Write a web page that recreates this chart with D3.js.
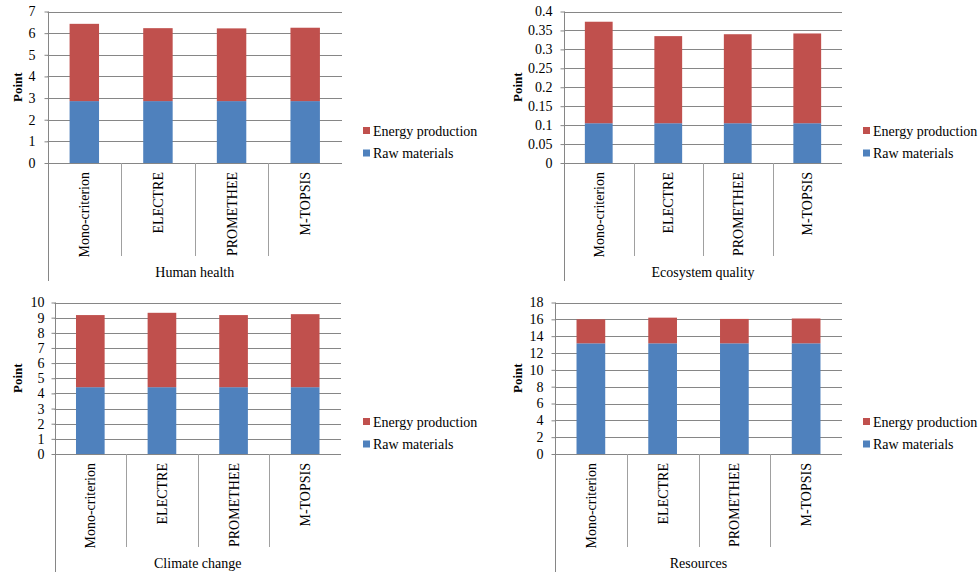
<!DOCTYPE html>
<html><head><meta charset="utf-8">
<script src="https://cdn.jsdelivr.net/npm/d3@7"></script>
<style>
html,body{margin:0;padding:0;background:#fff;}
svg text{font-family:"Liberation Serif","Times New Roman","DejaVu Serif",serif !important;}
</style></head>
<body>
<svg id="chart" width="979" height="573"></svg>
<script>
// ---- data ----
const methods = ["Mono-criterion", "ELECTRE", "PROMETHEE", "M-TOPSIS"];
const seriesNames = ["Raw materials", "Energy production"];
const legendOrder = ["Energy production", "Raw materials"];

const humanHealthRaw = [2.86, 2.86, 2.86, 2.86];
const humanHealthEnergy = [3.57, 3.37, 3.36, 3.39];
const humanHealthTicks = [0, 1, 2, 3, 4, 5, 6, 7];

const ecosystemRaw = [0.105, 0.105, 0.105, 0.105];
const ecosystemEnergy = [0.268, 0.230, 0.235, 0.237];
const ecosystemTicks = [0, 0.05, 0.1, 0.15, 0.2, 0.25, 0.3, 0.35, 0.4];

const climateRaw = [4.41, 4.41, 4.41, 4.41];
const climateEnergy = [4.76, 4.91, 4.76, 4.82];
const climateTicks = [0, 1, 2, 3, 4, 5, 6, 7, 8, 9, 10];

const resourcesRaw = [13.15, 13.15, 13.15, 13.15];
const resourcesEnergy = [2.85, 3.05, 2.90, 2.95];
const resourcesTicks = [0, 2, 4, 6, 8, 10, 12, 14, 16, 18];

const panelTitles = ["Human health", "Ecosystem quality", "Climate change", "Resources"];

// ---- styles ----
const colors = {"Raw materials": "#4F81BD", "Energy production": "#C0504D"};
const gridColor = "#868686";
const FONT = '"Liberation Serif", "Times New Roman", serif';

const panels = [
  {title: panelTitles[0], raw: humanHealthRaw, energy: humanHealthEnergy, ticks: humanHealthTicks,
   left: 47.5, right: 342, top: 11.5, bottom: 163, sepBottom: 256, axisBottom: 281, titleY: 277, pointX: 21.5, legendX: 363, legendY: 130.5, pad: 9},
  {title: panelTitles[1], raw: ecosystemRaw, energy: ecosystemEnergy, ticks: ecosystemTicks,
   left: 564, right: 842, top: 11.5, bottom: 163, sepBottom: 256, axisBottom: 281, titleY: 277, pointX: 521.5, legendX: 863, legendY: 130.5, pad: 8},
  {title: panelTitles[2], raw: climateRaw, energy: climateEnergy, ticks: climateTicks,
   left: 54.5, right: 341, top: 302.5, bottom: 454, sepBottom: 547, axisBottom: 572, titleY: 568, pointX: 21.5, legendX: 363, legendY: 421.5, pad: 7},
  {title: panelTitles[3], raw: resourcesRaw, energy: resourcesEnergy, ticks: resourcesTicks,
   left: 555, right: 842, top: 302.5, bottom: 454, sepBottom: 547, axisBottom: 572, titleY: 568, pointX: 521.5, legendX: 863, legendY: 421.5, pad: 8}
];

const svg = d3.select("#chart");

panels.forEach(p => {
  const g = svg.append("g").attr("font-family", FONT);
  const maxTick = p.ticks[p.ticks.length - 1];
  const y = d3.scaleLinear().domain([0, maxTick]).range([p.bottom, p.top]);
  const x = d3.scaleBand().domain(methods).range([p.left, p.right]).paddingInner(0.6).paddingOuter(0.3);
  const xOuter = d3.scaleBand().domain(methods).range([p.left, p.right]).padding(0);

  // gridlines
  g.selectAll(".grid").data(p.ticks.slice(1)).join("line")
    .attr("x1", p.left).attr("x2", p.right)
    .attr("y1", d => Math.round(y(d)) + 0.5).attr("y2", d => Math.round(y(d)) + 0.5)
    .attr("stroke", gridColor).attr("stroke-width", 1);

  // stacked bars
  const rows = methods.map((m, i) => ({method: m, "Raw materials": p.raw[i], "Energy production": p.energy[i]}));
  const stacked = d3.stack().keys(seriesNames)(rows);
  stacked.forEach(layer => {
    g.selectAll(null).data(layer).join("rect")
      .attr("x", d => x(d.data.method))
      .attr("width", x.bandwidth())
      .attr("y", d => y(d[1]))
      .attr("height", d => y(d[0]) - y(d[1]))
      .attr("fill", colors[layer.key]);
  });

  // y axis
  const yAxis = d3.axisLeft(y).tickValues(p.ticks).tickSize(4).tickPadding(p.pad).tickFormat(d => String(d));
  const ya = g.append("g").attr("transform", `translate(${Math.round(p.left) + 0.5},0)`).call(yAxis);
  ya.attr("font-family", FONT).attr("font-size", 14);
  ya.select(".domain").remove();
  ya.selectAll(".tick line").attr("stroke", gridColor);
  ya.selectAll(".tick text").attr("fill", "#000");
  // axis vertical line extended down
  g.append("line").attr("x1", Math.round(p.left) + 0.5).attr("x2", Math.round(p.left) + 0.5)
    .attr("y1", p.top).attr("y2", p.axisBottom).attr("stroke", gridColor);
  // baseline
  g.append("line").attr("x1", p.left).attr("x2", p.right)
    .attr("y1", Math.round(y(0)) + 0.5).attr("y2", Math.round(y(0)) + 0.5).attr("stroke", gridColor);

  // category separators
  g.selectAll(".sep").data(methods.slice(1)).join("line")
    .attr("x1", d => Math.round(xOuter(d)) + 0.5).attr("x2", d => Math.round(xOuter(d)) + 0.5)
    .attr("y1", p.bottom).attr("y2", p.sepBottom).attr("stroke", "#a0a0a0");

  // category labels (rotated)
  g.selectAll(".cat").data(methods).join("text")
    .attr("transform", d => `translate(${xOuter(d) + xOuter.bandwidth() / 2 + 5},${p.bottom + 9}) rotate(-90)`)
    .attr("text-anchor", "end")
    .attr("font-size", 14).attr("fill", "#000")
    .text(d => d);

  // panel title
  g.append("text").attr("x", (p.left + p.right) / 2).attr("y", p.titleY)
    .attr("text-anchor", "middle").attr("font-size", 14).attr("fill", "#000").text(p.title);

  // y label
  g.append("text").attr("transform", `translate(${p.pointX},${(p.top + p.bottom) / 2}) rotate(-90)`)
    .attr("text-anchor", "middle").attr("font-size", 13).attr("font-weight", "bold").attr("fill", "#000")
    .text("Point");

  // legend
  legendOrder.forEach((name, i) => {
    const ly = p.legendY + i * 22.5;
    g.append("rect").attr("x", p.legendX).attr("y", ly - 3.5).attr("width", 7).attr("height", 7).attr("fill", colors[name]);
    g.append("text").attr("x", p.legendX + 10).attr("y", ly + 5).attr("font-size", 14).attr("fill", "#000").text(name);
  });
});
</script>
</body></html>
